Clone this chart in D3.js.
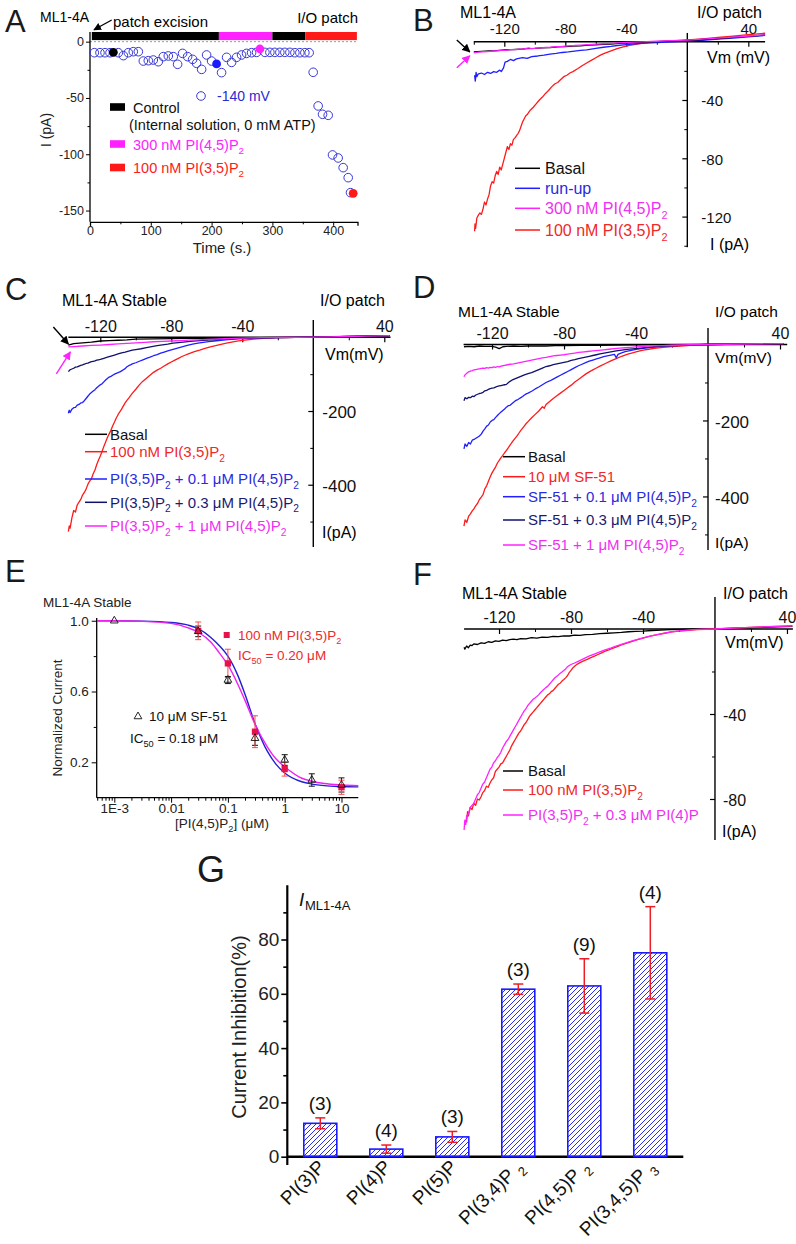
<!DOCTYPE html>
<html><head><meta charset="utf-8">
<script src="https://cdn.jsdelivr.net/npm/d3@7"></script>
<style>body{margin:0;background:#fff}</style>
</head><body>
<script>
// ================= DATA =================
// ---- Panel A : time course at -140 mV ----
const aTime = [7.1,16.4,24.7,32.9,46.6,54.8,63,71.2,79.5,87.7,95.9,104.1,112.3,120.5,128.8,137,144.1,152.3,160.5,168.8,175.3,183.6,191.8,200,216.4,224.7,232.9,241.1,249.3,257.5,265.8,274,287.7,295.9,304.1,312.3,320.5,328.8,337,345.2,353.4,360.5,367.1,375.3,382.5,391.8,398.9,408.2,416.4,424.7,428.5];
const aCurrent = [-9.8,-9.8,-9.8,-9.8,-9.8,-12.4,-9.8,-8.9,-8.9,-17.2,-16.9,-16.3,-17.8,-13.3,-12.7,-13.3,-20.1,-10.4,-13.3,-15.7,-19.2,-24.6,-11.8,-17.2,-27.5,-13.9,-18.4,-13.9,-11.8,-10.4,-9.8,-9.5,-9.5,-9.5,-9.5,-9.5,-9.5,-9.5,-9.8,-9.8,-9.8,-9.8,-27.2,-57.1,-64.5,-65.4,-100.6,-103.3,-111.9,-120.8,-134.1];
const aMarkTime = [38.4, 208.2, 279.5, 432.9];
const aMarkCurrent = [-9.5, -19.8, -6.5, -134.7];
const aTreatStart = [3, 212, 300, 354];
const aTreatEnd = [212, 300, 354, 439];
const aTicksX = [0, 100, 200, 300, 400];
const aMinorX = [50, 150, 250, 350];
const aTicksY = [0, -50, -100, -150];
const aMinorY = [-25, -75, -125];
const aLegend = ["Control", "300 nM PI(4,5)P_2", "100 nM PI(3,5)P_2"];

// ---- Panel B : I-V traces ----
const bBasal = [[-140,-7],[-135,-6.6],[-130,-6.4],[-125,-6.1],[-120,-5.7],[-115,-5.4],[-110,-5.2],[-105,-4.8],[-100,-4.6],[-95,-4.2],[-90,-4],[-85,-3.6],[-80,-3.4],[-75,-3],[-70,-2.8],[-65,-2.4],[-60,-2.2],[-55,-1.8],[-50,-1.6],[-45,-1.2],[-40,-1],[-30,-0.5],[-20,0],[-10,0.4],[0,0.9],[10,1.5],[20,2.2],[30,3],[40,3.8],[51,4.6]];
const bRunUp = [[-139.5,-23],[-139,-27],[-138.5,-21],[-138,-24],[-137,-22],[-135,-21.5],[-133,-22.5],[-131,-21],[-129,-21.8],[-127,-20.5],[-125,-21],[-123,-19.5],[-122,-20.5],[-120.5,-18],[-119.5,-14],[-118,-13.5],[-116,-12.2],[-114,-13],[-112,-11.8],[-108,-11],[-105,-11.5],[-102,-10.2],[-98,-9.8],[-94,-9.2],[-90,-8.5],[-86,-8],[-82,-7.4],[-78,-7],[-74,-6.5],[-70,-6],[-66,-5.6],[-60,-4.6],[-55,-3.8],[-50,-3.2],[-46,-2.6],[-40,-2],[-30,-1.2],[-20,-0.6],[-10,-0.1],[0,0.4],[10,1],[20,1.7],[30,2.5],[40,3.3],[51,4.3]];
const bPIP2 = [[-140,-7.6],[-137,-7.2],[-134,-6.9],[-131,-6.8],[-128,-6.4],[-125,-6.3],[-122,-6],[-119,-5.9],[-116,-5.5],[-113,-5.4],[-110,-5.1],[-107,-5],[-104,-4.3],[-102,-4.8],[-99,-4.4],[-96,-4.2],[-93,-3.9],[-90,-3.8],[-86,-3.4],[-82,-3.2],[-78,-2.8],[-74,-2.6],[-70,-2.3],[-65,-2],[-60,-1.7],[-55,-1.4],[-50,-1.1],[-45,-0.8],[-40,-0.5],[-30,-0.1],[-20,0.3],[-10,0.7],[0,1.1],[10,1.7],[20,2.4],[30,3.1],[40,3.9],[51,4.7]];
const bPI35P2 = [[-139.5,-130],[-139.2,-125],[-138.8,-128],[-138,-121],[-137,-119],[-136,-117.5],[-135,-118.5],[-134,-115],[-133,-110],[-132,-112],[-131,-108],[-130,-105],[-129,-99],[-128,-96],[-127,-97],[-126,-92],[-125,-89],[-124,-91],[-123,-86],[-122,-88],[-121,-84],[-120,-80],[-119,-76],[-118,-72],[-117,-74],[-116,-70],[-115,-71],[-114,-67],[-113,-66],[-112,-64.5],[-111,-63],[-110,-61],[-109,-58],[-108,-55],[-107,-53],[-106,-51],[-105,-50],[-104,-48.5],[-103,-47],[-101,-45],[-99,-42.5],[-97,-40],[-95,-38],[-93,-35.5],[-91,-33.5],[-89,-31],[-87,-29],[-85,-28],[-83,-26],[-81,-24],[-79,-23],[-77,-21.5],[-75,-20.5],[-72,-18.6],[-69,-16.5],[-66,-14.6],[-63,-12.8],[-60,-11],[-57,-9.2],[-54,-7.8],[-50,-6.3],[-46,-4.8],[-42,-3.6],[-38,-2.6],[-34,-1.8],[-30,-1.1],[-25,-0.4],[-20,0],[-15,0.3],[-10,0.6],[0,1.2],[10,2],[20,2.9],[30,3.8],[40,4.8],[51,5.8]];
const bLabels = ["Basal", "run-up", "300 nM PI(4,5)P_2", "100 nM PI(3,5)P_2"];

// ---- Panel C ----
const cBasal = [[-138,-21],[-135,-17],[-130,-15],[-125,-13],[-120,-10],[-115,-9],[-110,-8],[-105,-7],[-100,-5],[-90,-4],[-80,-3.5],[-70,-3],[-60,-2.5],[-50,-2],[-40,-1.3],[-30,-0.8],[-20,-0.4],[-10,0],[0,0.5],[20,2],[43,4]];
const cPI35 = [[-138,-527],[-137.5,-512],[-137,-518],[-136,-490],[-135,-470],[-134,-474],[-133,-455],[-132,-447],[-131,-440],[-130,-428],[-129,-421],[-128,-412],[-127,-399],[-126,-390],[-125,-384],[-124,-370],[-123,-360],[-122,-345],[-121,-333],[-120,-322],[-119,-310],[-118,-296],[-117,-284],[-116,-272],[-115,-262],[-114,-252],[-113,-240],[-112,-230],[-111,-219],[-110,-210],[-109,-202],[-108,-195],[-107,-186],[-106,-178],[-105,-171],[-104,-165],[-102,-152],[-100,-141],[-98,-129],[-96,-119],[-94,-111],[-92,-103],[-90,-95],[-88,-89],[-86,-84],[-84,-78],[-82,-72],[-80,-67],[-78,-62],[-76,-57],[-74,-52],[-72,-48],[-70,-44],[-67,-39],[-64,-35],[-61,-30],[-58,-26],[-55,-22.5],[-52,-19],[-49,-16],[-46,-13],[-43,-10.5],[-40,-8.5],[-36,-6],[-32,-4],[-28,-2.8],[-24,-1.8],[-20,-1],[-15,-0.5],[-10,0],[0,0.5],[10,1.5],[20,2.5],[30,3.3],[43,4.5]];
const cPlus01 = [[-138,-206],[-137.5,-198],[-137,-204],[-136,-195],[-135,-191],[-134,-190],[-133,-184],[-132,-182],[-131,-178],[-130,-177],[-129,-172],[-128,-166],[-127,-160],[-126,-154],[-125,-150],[-124,-146],[-123,-142],[-122,-137],[-121,-133],[-120,-129],[-119,-126],[-118,-121],[-117,-116],[-116,-112],[-115,-108],[-114,-106],[-113,-103],[-112,-100],[-111,-98],[-110,-96],[-109,-94],[-108,-91],[-107,-88],[-106,-85],[-105,-80],[-104,-77],[-103,-75],[-102,-72],[-100,-69],[-98,-65],[-96,-61],[-94,-57],[-92,-54],[-90,-50],[-88,-47],[-86,-43],[-84,-40],[-82,-37],[-80,-34],[-77,-30],[-74,-26],[-71,-22],[-68,-18.5],[-65,-16],[-62,-13.5],[-59,-11.5],[-56,-10],[-52,-8],[-48,-6],[-44,-4.5],[-40,-3.5],[-35,-2.5],[-30,-1.8],[-25,-1.2],[-20,-0.8],[-10,0],[0,0.5],[10,1.4],[20,2.4],[30,3.2],[43,4.4]];
const cPlus03 = [[-138,-93],[-137,-88],[-136,-86],[-135,-84],[-134,-81],[-133,-80],[-132,-78],[-131,-76],[-130,-75],[-129,-73],[-128,-71],[-127,-70],[-126,-68],[-125,-66],[-124,-65],[-123,-64],[-122,-62],[-121,-61],[-120,-60],[-118,-57],[-116,-54],[-114,-51],[-112,-48],[-110,-45],[-108,-42],[-106,-40],[-104,-37.5],[-102,-35],[-100,-33.5],[-97,-31],[-94,-28],[-91,-25],[-88,-22.5],[-85,-20.5],[-82,-18.5],[-79,-16],[-76,-14.5],[-72,-12.5],[-68,-10.5],[-64,-9],[-60,-7.5],[-55,-6],[-50,-4.5],[-45,-3.2],[-40,-2.3],[-30,-1.2],[-20,-0.6],[-10,0],[0,0.5],[20,2.3],[43,4.4]];
const cPlus1 = [[-138,-26],[-135,-25],[-130,-23.5],[-125,-22],[-120,-21],[-115,-19.5],[-110,-18],[-105,-16.5],[-100,-15],[-95,-13.5],[-90,-12],[-85,-11],[-80,-10],[-75,-8.8],[-70,-7.8],[-65,-6.8],[-60,-5.8],[-55,-4.8],[-50,-3.9],[-45,-3],[-40,-2.3],[-35,-1.6],[-30,-1],[-25,-0.6],[-20,-0.3],[-10,0],[0,0.5],[10,1.3],[20,2.2],[30,3.1],[43,4.5]];
const cLabels = ["Basal", "100 nM PI(3,5)P_2", "PI(3,5)P_2 + 0.1 \u03bcM PI(4,5)P_2", "PI(3,5)P_2 + 0.3 \u03bcM PI(4,5)P_2", "PI(3,5)P_2 + 1 \u03bcM PI(4,5)P_2"];

// ---- Panel D ----
const dBasal = [[-135.6,-6],[-133,-5],[-130,-6],[-127,-4],[-124,-5],[-120,-5],[-118,-7],[-116,-11],[-114,-6],[-112,-5],[-108,-4],[-104,-5],[-100,-4],[-95,-3.5],[-90,-4],[-85,-3],[-80,-3],[-70,-2.5],[-60,-2],[-50,-1.5],[-40,-1],[-30,-0.6],[-20,-0.3],[0,0],[20,0.6],[42,1.2]];
const dSF51 = [[-135.6,-478],[-135,-462],[-134,-468],[-133,-452],[-132,-446],[-131,-438],[-130,-432],[-129,-424],[-128,-418],[-127,-408],[-126,-402],[-125,-395],[-124,-380],[-123,-372],[-122,-360],[-121,-348],[-120,-338],[-119,-330],[-118,-322],[-117,-312],[-116,-305],[-115,-298],[-114,-292],[-113,-285],[-112,-279],[-111,-272],[-110,-265],[-109,-258],[-108,-252],[-107,-246],[-106,-240],[-105,-233],[-104,-226],[-103,-220],[-102,-214],[-101,-208],[-100,-203],[-98,-193],[-96,-184],[-94,-175],[-92,-164],[-91,-168],[-90,-158],[-88,-150],[-86,-142],[-84,-135],[-82,-128],[-80,-121],[-78,-114],[-76,-107],[-74,-99],[-72,-92],[-70,-85],[-68,-78],[-66,-72],[-64,-67],[-62,-62],[-60,-57],[-57,-50],[-54,-43],[-51,-37],[-48,-31],[-45,-26],[-42,-22],[-39,-18],[-36,-15],[-33,-12.5],[-30,-10.5],[-25,-7.5],[-20,-5.5],[-15,-4],[-10,-2.5],[-5,-1],[0,0],[10,0.8],[20,1.3],[30,1.8],[42,2.3]];
const dPlus01 = [[-135.6,-275],[-135,-262],[-134,-268],[-133,-258],[-132,-262],[-131,-252],[-130,-250],[-129,-247],[-128,-244],[-127,-241],[-126,-236],[-125,-228],[-124,-222],[-123,-215],[-122,-212],[-121,-204],[-120,-200],[-119,-198],[-118,-192],[-117,-187],[-116,-182],[-115,-178],[-114,-174],[-113,-170],[-112,-165],[-111,-161],[-110,-160],[-109,-156],[-108,-152],[-107,-148],[-106,-146],[-105,-143],[-104,-140],[-103,-137],[-102,-133],[-101,-130],[-100,-128],[-98,-123],[-96,-117],[-94,-112],[-92,-106],[-90,-100],[-88,-96],[-86,-91],[-84,-86],[-82,-81],[-80,-76],[-78,-71],[-76,-66],[-74,-61],[-72,-56],[-70,-52],[-68,-48],[-66,-44],[-64,-41],[-62,-38],[-60,-35],[-58,-32],[-56,-30],[-54,-28],[-52,-26],[-51,-35],[-50,-26],[-48,-22],[-46,-19],[-44,-17],[-42,-15],[-40,-13],[-36,-10],[-32,-7.5],[-28,-5.5],[-24,-4],[-20,-3],[-15,-2],[-10,-1],[0,0],[20,1.2],[42,2.3]];
const dPlus03 = [[-135.6,-148],[-135,-140],[-134,-143],[-133,-139],[-132,-140],[-131,-136],[-130,-137],[-129,-133],[-128,-131],[-127,-129],[-126,-128],[-125,-126],[-124,-122],[-123,-121],[-122,-118],[-121,-116],[-120,-115],[-119,-114],[-118,-112],[-117,-110],[-116,-109],[-115,-108],[-114,-107],[-113,-106],[-112,-105],[-111,-101],[-110,-97],[-109,-94],[-108,-92],[-107,-90],[-106,-88],[-105,-86],[-104,-84],[-102,-80],[-100,-77],[-98,-74],[-96,-70],[-94,-66],[-92,-62],[-90,-58],[-88,-56],[-86,-53],[-84,-51],[-82,-49],[-80,-47],[-78,-45],[-76,-42],[-74,-40],[-72,-37],[-70,-35],[-68,-33],[-66,-31],[-64,-29],[-62,-27],[-60,-25],[-57,-22],[-54,-19.5],[-51,-17],[-48,-15],[-45,-13],[-42,-11.5],[-39,-10],[-35,-8],[-30,-6],[-25,-4.5],[-20,-3],[-15,-2],[-10,-1],[0,0],[20,1.2],[42,2.3]];
const dPlus1 = [[-135.6,-85],[-135,-80],[-134,-76],[-133,-72],[-132,-70],[-131,-69],[-130,-67],[-129,-66],[-128,-65],[-127,-64],[-126,-63],[-125,-62],[-124,-63],[-123,-61],[-122,-62],[-121,-60],[-120,-61],[-119,-59],[-118,-60],[-117,-58],[-116,-59],[-115,-57],[-114,-56],[-113,-55],[-112,-54],[-110,-52],[-108,-51],[-106,-49],[-104,-47],[-102,-45],[-100,-43],[-98,-41],[-96,-39],[-94,-37],[-92,-35.5],[-90,-34],[-88,-32],[-86,-30],[-84,-29],[-82,-28],[-80,-27],[-78,-25.5],[-76,-24],[-74,-22.5],[-72,-21],[-70,-20],[-67,-18.5],[-64,-17],[-61,-15.5],[-58,-14],[-55,-12.5],[-52,-11],[-49,-9.8],[-46,-8.6],[-43,-7.5],[-40,-6.5],[-35,-5],[-30,-3.8],[-25,-2.8],[-20,-2],[-15,-1.3],[-10,-0.7],[0,0],[20,1.3],[42,2.5]];
const dLabels = ["Basal", "10 \u03bcM SF-51", "SF-51 + 0.1 \u03bcM PI(4,5)P_2", "SF-51 + 0.3 \u03bcM PI(4,5)P_2", "SF-51 + 1 \u03bcM PI(4,5)P_2"];

// ---- Panel E : dose response ----
const ePI35Conc = [0.03, 0.1, 0.3, 1, 10];
const ePI35Val = [0.943, 0.759, 0.373, 0.162, 0.059];
const ePI35Err = [0.05, 0.08, 0.09, 0.04, 0.04];
const eSFConc = [0.001, 0.03, 0.1, 0.3, 1, 3, 10];
const eSFVal = [1.0, 0.94, 0.665, 0.336, 0.213, 0.1, 0.072];
const eSFErr = [0, 0.03, 0.02, 0.04, 0.03, 0.035, 0.04];
const eFitConc = [0.0005, 0.001, 0.003, 0.01, 0.02, 0.03, 0.05, 0.07, 0.1, 0.15, 0.2, 0.3, 0.5, 0.7, 1, 2, 3, 5, 10, 19.8];
const eFitBlue = [1.0, 1.0, 0.998, 0.99, 0.975, 0.955, 0.905, 0.86, 0.80, 0.69, 0.585, 0.42, 0.26, 0.19, 0.14, 0.09, 0.077, 0.068, 0.063, 0.061];
const eFitMagenta = [1.0, 1.0, 0.997, 0.985, 0.96, 0.935, 0.88, 0.82, 0.75, 0.64, 0.55, 0.415, 0.285, 0.22, 0.175, 0.11, 0.093, 0.08, 0.072, 0.068];
const eTicksX = [0.001, 0.01, 0.1, 1, 10];
const eTicksY = [0.2, 0.6, 1.0];
const eMinorY = [0.4, 0.8];

// ---- Panel F ----
const fBasal = [[-139.4,-8.6],[-139,-9.5],[-138,-8],[-137,-8.8],[-136,-7.6],[-135,-7.8],[-134,-7],[-132,-7.3],[-130,-6.5],[-128,-6.8],[-126,-6],[-124,-6.3],[-122,-5.6],[-120,-5.8],[-118,-5.2],[-116,-5.5],[-114,-5],[-112,-4.8],[-110,-5],[-108,-4.5],[-105,-4.6],[-102,-4.1],[-99,-4.3],[-96,-3.8],[-93,-3.9],[-90,-3.5],[-87,-3.6],[-84,-3.2],[-81,-3.3],[-78,-2.9],[-75,-3],[-72,-2.6],[-68,-2.5],[-64,-2.2],[-60,-2],[-56,-1.8],[-52,-1.6],[-48,-1.3],[-44,-1.1],[-40,-1],[-35,-0.7],[-30,-0.5],[-25,-0.3],[-20,-0.2],[-10,0],[0,0],[20,0.6],[43,1.2]];
const fPI35 = [[-138,-91],[-137.5,-86],[-137,-88],[-136,-84],[-135,-85],[-134,-82],[-133,-83],[-132,-80],[-131,-80.5],[-130,-79],[-129,-77],[-128,-76],[-127,-74],[-126,-74.5],[-125,-72.5],[-124,-71],[-123,-70],[-122,-67],[-121,-66],[-120,-65],[-119,-63.5],[-118,-63],[-117,-61.5],[-116,-60],[-115,-58.5],[-114,-57],[-113,-55],[-112,-53.5],[-111,-52],[-110,-50.5],[-109,-49],[-108,-48],[-107,-46.5],[-106,-45],[-105,-44],[-104,-42.5],[-103,-41],[-102,-40],[-101,-39],[-100,-38],[-99,-37],[-98,-36],[-97,-35],[-96,-34],[-95,-33],[-94,-32],[-93,-31],[-92,-30.5],[-91,-29.5],[-90,-29],[-89,-28],[-88,-27],[-87,-26],[-86,-25.5],[-85,-24.5],[-84,-23.8],[-83,-23],[-82,-22],[-81,-20.5],[-80,-19.5],[-79,-18.3],[-78,-17.5],[-77,-16.8],[-76,-16.3],[-75,-15.8],[-73,-15],[-71,-14.3],[-69,-13.5],[-67,-12.8],[-65,-12],[-63,-11.2],[-61,-10.4],[-59,-9.8],[-57,-9.1],[-55,-8.5],[-52,-7.5],[-49,-6.6],[-46,-5.8],[-43,-5],[-40,-4.3],[-36,-3.4],[-32,-2.7],[-28,-2],[-24,-1.4],[-20,-1],[-15,-0.6],[-10,-0.3],[0,0],[10,0.4],[20,0.8],[30,1.1],[43,1.5]];
const fPI4P = [[-139.4,-94.6],[-139,-90],[-138.5,-92],[-138,-88],[-137,-87],[-136,-84],[-135,-83],[-134,-82],[-133,-80],[-132,-78],[-131,-77],[-130,-75],[-129,-73],[-128,-72],[-127,-70],[-126,-68],[-125,-66],[-124,-65],[-123,-63],[-122,-62],[-121,-60.5],[-120,-59.5],[-119,-58],[-118,-56],[-117,-54.5],[-116,-53],[-115,-52],[-114,-50.5],[-113,-49],[-112,-47.5],[-111,-46],[-110,-44.5],[-109,-43],[-108,-41.5],[-107,-40],[-106,-38.5],[-105,-37.5],[-104,-36],[-103,-35],[-102,-34],[-101,-33],[-100,-32.5],[-99,-31.8],[-98,-31],[-97,-30],[-96,-29.2],[-95,-28.4],[-94,-27.6],[-93,-27],[-92,-26],[-91,-25],[-90,-24],[-89,-23],[-88,-22.3],[-87,-21.6],[-86,-20.8],[-85,-20.2],[-84,-19.5],[-83,-18.8],[-82,-17.8],[-81,-17.2],[-80,-16.7],[-78,-16],[-76,-15.2],[-74,-14.4],[-72,-13.6],[-70,-12.8],[-67,-11.8],[-64,-10.8],[-61,-9.8],[-58,-9],[-55,-8],[-52,-7.2],[-49,-6.4],[-46,-5.6],[-43,-4.9],[-40,-4.2],[-36,-3.3],[-32,-2.6],[-28,-1.9],[-24,-1.3],[-20,-0.9],[-15,-0.5],[-10,-0.2],[0,0],[10,0.4],[20,0.8],[30,1.1],[43,1.5]];
const fLabels = ["Basal", "100 nM PI(3,5)P_2", "PI(3,5)P_2 + 0.3 \u03bcM PI(4)P"];

// ---- Panel G : bar chart ----
const gCategories = ["PI(3)P", "PI(4)P", "PI(5)P", "PI(3,4)P _2", "PI(4,5)P _2", "PI(3,4,5)P _3"];
const gMeans = [12.3, 2.8, 7.3, 61.7, 62.9, 75.1];
const gErrors = [2.0, 1.5, 2.0, 1.9, 10, 17];
const gN = ["(3)", "(4)", "(3)", "(3)", "(9)", "(4)"];
const gTicksY = [0, 20, 40, 60, 80];
const gMinorY = [10, 30, 50, 70, 90];

// ================= RENDER =================
const FONT = "'Liberation Sans', Arial, Helvetica, sans-serif";
const RED = "#ff1a1a", BLUE = "#1f1fff", NAVY = "#10106e", MAG = "#ff22ff", BLACK = "#000";
const svg = d3.select('body').append('svg').attr('width', 796).attr('height', 1244).attr('font-family', FONT);
svg.append('rect').attr('width', 796).attr('height', 1244).attr('fill', '#fff');
const defs = svg.append('defs');
function marker(id, color) {
  defs.append('marker').attr('id', id).attr('viewBox', '0 0 10 10').attr('refX', 9).attr('refY', 5)
    .attr('markerWidth', 6).attr('markerHeight', 6).attr('orient', 'auto')
    .append('path').attr('d', 'M0,0 L10,5 L0,10 z').attr('fill', color);
}
marker('arK', BLACK); marker('arM', MAG);
defs.append('pattern').attr('id', 'hatch').attr('patternUnits', 'userSpaceOnUse').attr('width', 5).attr('height', 5)
  .append('path').attr('d', 'M-1,1 l2,-2 M0,5 l5,-5 M4,6 l2,-2').attr('stroke', '#2a2aff').attr('stroke-width', 1);

function rich(t, s, fs) {
  const re = /_\{([^}]*)\}|_(.)/g;
  let last = 0, m, shifted = false;
  const sh = fs * 0.3;
  while ((m = re.exec(s)) !== null) {
    if (m.index > last) {
      const tt = t.append('tspan').text(s.slice(last, m.index));
      if (shifted) { tt.attr('dy', -sh); shifted = false; }
    }
    t.append('tspan').attr('font-size', fs * 0.68).attr('dy', shifted ? 0 : sh).text(m[1] || m[2]);
    shifted = true;
    last = re.lastIndex;
  }
  if (last < s.length) {
    const tt = t.append('tspan').text(s.slice(last));
    if (shifted) tt.attr('dy', -sh);
  }
  return t;
}
function txt(g, x, y, s, fs, fill, anchor, extra) {
  const t = g.append('text').attr('x', x).attr('y', y).attr('font-size', fs).attr('fill', fill || '#000');
  if (anchor) t.attr('text-anchor', anchor);
  if (extra) extra(t);
  return rich(t, s, fs);
}
function letter(x, y, s, fs) { txt(svg, x, y, s, fs || 31, '#1a1a1a'); }

// ---------- Panel A ----------
(function () {
  const g = svg.append('g');
  const x = d3.scaleLinear().domain([0, 440]).range([90, 357.5]);
  const y = d3.scaleLinear().domain([-160, 10.5]).range([221.8, 29.85]);
  letter(5, 32, 'A');
  txt(g, 40, 22, 'ML1-4A', 14);
  txt(g, 113, 27, 'patch excision', 15);
  txt(g, 358, 23, 'I/O patch', 15, '#000', 'end');
  g.append('line').attr('x1', 111.7).attr('y1', 20).attr('x2', 94).attr('y2', 29.8)
    .attr('stroke', '#000').attr('stroke-width', 1.3).attr('marker-end', 'url(#arK)');
  const barCol = [BLACK, MAG, BLACK, RED];
  g.selectAll('rect.tr').data(aTreatStart).enter().append('rect')
    .attr('x', d => x(d)).attr('width', (d, i) => x(aTreatEnd[i]) - x(d))
    .attr('y', y(8.6)).attr('height', y(1.4) - y(8.6)).attr('fill', (d, i) => barCol[i]);
  g.append('line').attr('x1', x(0)).attr('x2', x(440)).attr('y1', y(0)).attr('y2', y(0))
    .attr('stroke', '#999').attr('stroke-dasharray', '2,2');
  // axes
  const xa = g.append('g').attr('transform', `translate(0,${y(-160)})`)
    .call(d3.axisBottom(x).tickValues(aTicksX).tickSize(4).tickFormat(d => String(d)));
  xa.attr('font-size', 12.5).attr('font-family', FONT);
  xa.select('.domain').attr('stroke-width', 1.3);
  xa.selectAll('text').attr('y', 4).attr('fill', '#222');
  const xm = g.append('g').attr('transform', `translate(0,${y(-160)})`)
    .call(d3.axisBottom(x).tickValues(aMinorX).tickSize(2.5).tickFormat(''));
  xm.select('.domain').remove();
  const ya = g.append('g').attr('transform', `translate(${x(0)},0)`)
    .call(d3.axisLeft(y).tickValues(aTicksY).tickSize(4).tickFormat(d => String(d)));
  ya.attr('font-size', 12.5).attr('font-family', FONT);
  ya.select('.domain').attr('stroke-width', 1.3);
  ya.selectAll('.domain').attr('d', `M0,${y(-160)}V${y(8.6)}`);
  ya.selectAll('text').attr('x', -6).attr('fill', '#222');
  const ym = g.append('g').attr('transform', `translate(${x(0)},0)`)
    .call(d3.axisLeft(y).tickValues(aMinorY).tickSize(2.5).tickFormat(''));
  ym.select('.domain').remove();
  txt(g, 222, 252.5, 'Time (s.)', 15, '#222', 'middle');
  txt(g, 0, 0, 'I (pA)', 14, '#222', 'middle', t => t.attr('transform', 'translate(51,130) rotate(-90)'));
  // data
  g.selectAll('circle.o').data(aTime).enter().append('circle')
    .attr('cx', d => x(d)).attr('cy', (d, i) => y(aCurrent[i])).attr('r', 4.3)
    .attr('fill', 'none').attr('stroke', '#3838d8').attr('stroke-width', 1);
  const markCol = [BLACK, '#1a1aff', MAG, RED];
  g.selectAll('circle.f').data(aMarkTime).enter().append('circle')
    .attr('cx', d => x(d)).attr('cy', (d, i) => y(aMarkCurrent[i])).attr('r', 4.4)
    .attr('fill', (d, i) => markCol[i]);
  // legends
  g.append('circle').attr('cx', 201).attr('cy', 96).attr('r', 4.3).attr('fill', 'none').attr('stroke', '#3838d8');
  txt(g, 217, 101, '-140 mV', 14, '#2a2ad0');
  const legY = [107, 144, 167.5];
  const legCol = [BLACK, MAG, RED];
  legY.forEach((ly, i) => {
    g.append('rect').attr('x', 110).attr('y', ly - 3.8).attr('width', 15).attr('height', 7.6).attr('fill', legCol[i]);
    txt(g, 133, ly + 5.5, aLegend[i], 14.5, i === 0 ? '#111' : legCol[i]);
  });
  txt(g, 129, 130, '(Internal solution, 0 mM ATP)', 14.5, '#111');
})();

// ---------- I-V panel helper ----------
function ivPanel(c) {
  const g = svg.append('g');
  const x = d3.scaleLinear().domain(c.xDom).range(c.xRange);
  const y = d3.scaleLinear().domain(c.yDom).range(c.yRange);
  const X0 = x(0), Y0 = y(0);
  const xa = g.append('g').attr('transform', `translate(0,${Y0})`)
    .call(d3.axisBottom(x).tickValues(c.xMajor).tickSize(c.tick).tickFormat(d => String(d)));
  xa.select('.domain').remove();
  xa.attr('font-size', c.tickFs).attr('font-family', FONT);
  xa.selectAll('text').attr('y', -c.xLabOff).attr('dy', 0).attr('fill', '#111');
  xa.selectAll('line').attr('stroke-width', 1.2);
  const xm = g.append('g').attr('transform', `translate(0,${Y0})`)
    .call(d3.axisBottom(x).tickValues(c.xMinor).tickSize(c.tick * 0.6).tickFormat(''));
  xm.select('.domain').remove();
  g.append('line').attr('x1', c.xRange[0]).attr('x2', c.xRange[1]).attr('y1', Y0).attr('y2', Y0)
    .attr('stroke', '#000').attr('stroke-width', 1.4);
  const ya = g.append('g').attr('transform', `translate(${X0},0)`)
    .call(d3.axisLeft(y).tickValues(c.yMajor).tickSize(c.tick).tickFormat(d => String(d)));
  ya.select('.domain').remove();
  ya.attr('font-size', c.yTickFs).attr('font-family', FONT);
  ya.selectAll('text').attr('x', c.yLabOff).attr('text-anchor', 'start').attr('dy', '0.4em').attr('fill', '#111');
  ya.selectAll('line').attr('stroke-width', 1.2);
  const ym = g.append('g').attr('transform', `translate(${X0},0)`)
    .call(d3.axisLeft(y).tickValues(c.yMinor).tickSize(c.tick * 0.6).tickFormat(''));
  ym.select('.domain').remove();
  g.append('line').attr('x1', X0).attr('x2', X0).attr('y1', c.yRange[0]).attr('y2', c.yRange[1])
    .attr('stroke', '#000').attr('stroke-width', 1.4);
  // texts
  txt(g, c.title[0], c.title[1], c.titleText, c.fs);
  txt(g, c.io[0], c.io[1], 'I/O patch', c.fs, '#000', 'end');
  txt(g, c.vm[0], c.vm[1], c.vmText, c.fs);
  txt(g, c.ia[0], c.ia[1], c.iaText, c.fs);
  // traces
  const line = d3.line().x(d => x(d[0])).y(d => y(d[1]));
  c.series.forEach((s, i) => {
    g.append('path').datum(s).attr('d', line).attr('fill', 'none')
      .attr('stroke', c.colors[i]).attr('stroke-width', 1.3).attr('stroke-linejoin', 'round');
  });
  // legend
  c.legRows.forEach((ly, i) => {
    g.append('line').attr('x1', c.legX[0]).attr('x2', c.legX[1]).attr('y1', ly).attr('y2', ly)
      .attr('stroke', c.legColors[i]).attr('stroke-width', 1.5);
    txt(g, c.legX[2], ly + c.legFs * 0.36, c.labels[i], c.legFs, c.legColors[i] === BLACK ? '#111' : c.legTextColors[i]);
  });
  // arrows pointing at first point of traces
  (c.arrows || []).forEach(a => {
    const s = c.series[a.idx][0];
    const tx = x(s[0]) + a.tip[0], ty = y(s[1]) + a.tip[1];
    g.append('line').attr('x1', tx + a.tail[0]).attr('y1', ty + a.tail[1]).attr('x2', tx).attr('y2', ty)
      .attr('stroke', a.color).attr('stroke-width', 1.4).attr('marker-end', a.color === BLACK ? 'url(#arK)' : 'url(#arM)');
  });
  return { x, y, g };
}

// ---------- Panel B ----------
letter(413, 31, 'B');
ivPanel({
  xDom: [-140, 51], xRange: [473.8, 765.1], yDom: [-141, 6], yRange: [247.2, 32.95],
  xMajor: [-120, -80, -40, 40], xMinor: [-140, -100, -60, -20, 20], yMajor: [-40, -80, -120], yMinor: [-20, -60, -100, -140],
  tick: 5, tickFs: 15, yTickFs: 15, xLabOff: 8, yLabOff: 14,
  fs: 16, title: [460, 17.5], titleText: 'ML1-4A', io: [762, 17.5], vm: [707, 63], vmText: 'Vm (mV)', ia: [710, 250], iaText: 'I (pA)',
  series: [bPI35P2, bRunUp, bBasal, bPIP2], colors: [RED, BLUE, BLACK, MAG],
  labels: bLabels, legRows: [168.3, 188.3, 208.3, 230], legX: [515, 540, 545], legFs: 16,
  legColors: [BLACK, BLUE, MAG, RED], legTextColors: [BLACK, '#2a2ae0', '#f030f0', '#f02828'],
  arrows: [{ idx: 2, tip: [-4, 0], tail: [-13, -12], color: BLACK }, { idx: 3, tip: [-4, 3], tail: [-13, 12], color: MAG }]
});

// ---------- Panel C ----------
letter(5, 300, 'C');
ivPanel({
  xDom: [-138, 43.5], xRange: [68.35, 390.5], yDom: [-569, 47], yRange: [547, 320],
  xMajor: [-120, -80, -40, 40], xMinor: [-100, -60, -20, 20], yMajor: [-200, -400], yMinor: [-100, -300, -500],
  tick: 5, tickFs: 16, yTickFs: 17, xLabOff: 5.6, yLabOff: 9,
  fs: 16, title: [62, 306], titleText: 'ML1-4A Stable', io: [385, 306], vm: [325, 360], vmText: 'Vm(mV)', ia: [322, 538], iaText: 'I(pA)',
  series: [cPI35, cPlus01, cPlus03, cBasal, cPlus1], colors: [RED, BLUE, NAVY, BLACK, MAG],
  labels: cLabels, legRows: [434.3, 451.7, 479, 502.3, 526], legX: [85, 107, 110], legFs: 15,
  legColors: [BLACK, RED, BLUE, NAVY, MAG], legTextColors: [BLACK, '#f02828', '#2a2ae0', '#1a1a70', '#f030f0'],
  arrows: [{ idx: 3, tip: [0, -1], tail: [-15, -17], color: BLACK }, { idx: 4, tip: [2, 5], tail: [-14, 22], color: MAG }]
});

// ---------- Panel D ----------
letter(413, 298, 'D');
ivPanel({
  xDom: [-135.8, 44], xRange: [463.6, 787.2], yDom: [-541, 43.4], yRange: [550, 328],
  xMajor: [-120, -80, -40, 40], xMinor: [-100, -60, -20, 20], yMajor: [-200, -400], yMinor: [-100, -300, -500],
  tick: 5, tickFs: 16, yTickFs: 17, xLabOff: 5, yLabOff: 7,
  fs: 15.5, title: [458, 316.5], titleText: 'ML1-4A Stable', io: [778, 316.5], vm: [715, 363], vmText: 'Vm(mV)', ia: [715, 548], iaText: 'I(pA)',
  series: [dSF51, dPlus01, dPlus03, dBasal, dPlus1], colors: [RED, BLUE, NAVY, BLACK, MAG],
  labels: dLabels, legRows: [456.7, 476.7, 496.7, 520, 545], legX: [503, 525, 528], legFs: 15,
  legColors: [BLACK, RED, BLUE, NAVY, MAG], legTextColors: [BLACK, '#f02828', '#2a2ae0', '#1a1a70', '#f030f0']
});

// ---------- Panel E ----------
letter(5, 582, 'E');
(function () {
  const g = svg.append('g');
  const x = d3.scaleLog().domain([Math.pow(10, -3.31), Math.pow(10, 1.296)]).range([96.7, 358.3]);
  const y = d3.scaleLinear().domain([0, 1.0155]).range([797.7, 618]);
  const fs = 13.5;
  const xa = g.append('g').attr('transform', `translate(0,${y(0)})`)
    .call(d3.axisBottom(x).tickValues(eTicksX).tickSize(5).tickFormat(d => d === 0.001 ? '1E-3' : String(d)));
  xa.attr('font-size', fs).attr('font-family', FONT);
  xa.select('.domain').attr('d', `M${x.range()[0]},0H${x.range()[1]}`).attr('stroke-width', 1.3);
  xa.selectAll('text').attr('y', 6).attr('fill', '#222');
  const minors = x.ticks().filter(v => !eTicksX.some(t => Math.abs(t - v) / t < 1e-6));
  const xm = g.append('g').attr('transform', `translate(0,${y(0)})`)
    .call(d3.axisBottom(x).tickValues(minors).tickSize(3).tickFormat(''));
  xm.select('.domain').remove();
  const ya = g.append('g').attr('transform', `translate(${x.range()[0]},0)`)
    .call(d3.axisLeft(y).tickValues(eTicksY).tickSize(5).tickFormat(d3.format('.1f')));
  ya.attr('font-size', fs).attr('font-family', FONT);
  ya.select('.domain').attr('d', `M0,${y.range()[0]}V${y.range()[1]}`).attr('stroke-width', 1.3);
  ya.selectAll('text').attr('fill', '#222');
  const ym = g.append('g').attr('transform', `translate(${x.range()[0]},0)`)
    .call(d3.axisLeft(y).tickValues(eMinorY).tickSize(3).tickFormat(''));
  ym.select('.domain').remove();
  txt(g, 222, 828, '[PI(4,5)P_2] (\u03bcM)', fs, '#222', 'middle');
  txt(g, 0, 0, 'Normalized Current', fs, '#222', 'middle', t => t.attr('transform', 'translate(62,718) rotate(-90)'));
  txt(g, 43, 606.5, 'ML1-4A  Stable', fs, '#222');
  // fits
  const ln = d3.line().curve(d3.curveMonotoneX);
  g.append('path').attr('d', ln(eFitConc.map((c, i) => [x(c), y(eFitBlue[i])])))
    .attr('fill', 'none').attr('stroke', '#2020d0').attr('stroke-width', 1.4);
  g.append('path').attr('d', ln(eFitConc.map((c, i) => [x(c), y(eFitMagenta[i])])))
    .attr('fill', 'none').attr('stroke', '#f020f0').attr('stroke-width', 1.4);
  // error bars helper
  function errs(conc, val, err, col) {
    conc.forEach((c, i) => {
      if (!err[i]) return;
      const cx = x(c), y1 = y(val[i] - err[i]), y2 = y(val[i] + err[i]);
      g.append('line').attr('x1', cx).attr('x2', cx).attr('y1', y1).attr('y2', y2).attr('stroke', col).attr('stroke-width', 1);
      [y1, y2].forEach(yy => g.append('line').attr('x1', cx - 3).attr('x2', cx + 3).attr('y1', yy).attr('y2', yy).attr('stroke', col).attr('stroke-width', 1));
    });
  }
  errs(eSFConc, eSFVal, eSFErr, '#111');
  errs(ePI35Conc, ePI35Val, ePI35Err, '#ff4a4a');
  g.selectAll('path.sq').data(ePI35Conc).enter().append('path')
    .attr('d', d3.symbol(d3.symbolSquare, 40)).attr('transform', (d, i) => `translate(${x(d)},${y(ePI35Val[i])})`)
    .attr('fill', '#e8124a');
  g.selectAll('path.tri').data(eSFConc).enter().append('path')
    .attr('d', d3.symbol(d3.symbolTriangle, 26)).attr('transform', (d, i) => `translate(${x(d)},${y(eSFVal[i])})`)
    .attr('fill', 'none').attr('stroke', '#111').attr('stroke-width', 0.9);
  // legend
  g.append('path').attr('d', d3.symbol(d3.symbolSquare, 36)).attr('transform', 'translate(226.7,635)').attr('fill', '#e8124a');
  txt(g, 238, 640, '100 nM PI(3,5)P_2', fs, '#ee2a2a');
  txt(g, 238, 660, 'IC_{50} = 0.20 \u03bcM', fs, '#ee2a2a');
  g.append('path').attr('d', d3.symbol(d3.symbolTriangle, 26)).attr('transform', 'translate(138,716.5)')
    .attr('fill', 'none').attr('stroke', '#111').attr('stroke-width', 0.9);
  txt(g, 149, 721, '10 \u03bcM SF-51', fs, '#111');
  txt(g, 130, 743, 'IC_{50} = 0.18 \u03bcM', fs, '#111');
})();

// ---------- Panel F ----------
letter(413, 585, 'F');
ivPanel({
  xDom: [-139.4, 43.3], xRange: [464.1, 792.9], yDom: [-99.3, 15.06], yRange: [840, 597],
  xMajor: [-120, -80, -40, 40], xMinor: [-100, -60, -20, 20], yMajor: [-40, -80], yMinor: [-20, -60],
  tick: 5, tickFs: 16, yTickFs: 16, xLabOff: 5.7, yLabOff: 8,
  fs: 16, title: [462, 599], titleText: 'ML1-4A Stable', io: [788, 599], vm: [725, 648], vmText: 'Vm(mV)', ia: [722, 837], iaText: 'I(pA)',
  series: [fBasal, fPI35, fPI4P], colors: [BLACK, RED, MAG],
  labels: fLabels, legRows: [771, 790, 815], legX: [503, 523, 528], legFs: 15,
  legColors: [BLACK, RED, MAG], legTextColors: [BLACK, '#f02828', '#f030f0']
});

// ---------- Panel G ----------
letter(197, 882, 'G', 36);
(function () {
  const g = svg.append('g');
  const x = d3.scaleBand().domain(gCategories).range([287.3, 683.3]).paddingInner(0.5).paddingOuter(0.25);
  const y = d3.scaleLinear().domain([0, 100]).range([1156.7, 885.2]);
  const fs = 19;
  const ya = g.append('g').attr('transform', 'translate(287.3,0)')
    .call(d3.axisLeft(y).tickValues(gTicksY).tickSize(6).tickFormat(d => String(d)));
  ya.attr('font-size', fs).attr('font-family', FONT);
  ya.select('.domain').attr('d', `M0,1165V${y(100)}`).attr('stroke-width', 2.2);
  ya.selectAll('line').attr('stroke-width', 1.6);
  ya.selectAll('text').attr('x', -8).attr('fill', '#222');
  const ym = g.append('g').attr('transform', 'translate(287.3,0)')
    .call(d3.axisLeft(y).tickValues(gMinorY).tickSize(4).tickFormat(''));
  ym.select('.domain').remove();
  ym.selectAll('line').attr('stroke-width', 1.6);
  g.append('line').attr('x1', 287.3).attr('x2', 683.3).attr('y1', y(0)).attr('y2', y(0)).attr('stroke', '#000').attr('stroke-width', 2.4);
  txt(g, 0, 0, 'Current Inhibition(%)', 20, '#222', 'middle', t => t.attr('transform', 'translate(246,1027) rotate(-90)'));
  g.append('text').attr('x', 299).attr('y', 906).attr('font-size', 19).attr('font-style', 'italic').attr('fill', '#111').text('I');
  g.append('text').attr('x', 305).attr('y', 909.5).attr('font-size', 13).attr('fill', '#111').text('ML1-4A');
  g.selectAll('rect.bar').data(gCategories).enter().append('rect')
    .attr('x', d => x(d)).attr('width', x.bandwidth())
    .attr('y', (d, i) => y(gMeans[i])).attr('height', (d, i) => y(0) - y(gMeans[i]))
    .attr('fill', 'url(#hatch)').attr('stroke', '#1a1aff').attr('stroke-width', 1.6);
  gCategories.forEach((c, i) => {
    const cx = x(c) + x.bandwidth() / 2;
    const y1 = y(gMeans[i] - gErrors[i]), y2 = y(gMeans[i] + gErrors[i]);
    g.append('line').attr('x1', cx).attr('x2', cx).attr('y1', y1).attr('y2', y2).attr('stroke', '#ee1c24').attr('stroke-width', 1.5);
    [y1, y2].forEach(yy => g.append('line').attr('x1', cx - 5).attr('x2', cx + 5).attr('y1', yy).attr('y2', yy).attr('stroke', '#ee1c24').attr('stroke-width', 1.5));
    txt(g, cx, y2 - 8, gN[i], fs, '#111', 'middle');
    txt(g, 0, 0, c, fs, '#111', 'end', t => t.attr('transform', `translate(${cx + 6},1168) rotate(-45)`));
  });
})();
</script>
</body></html>
